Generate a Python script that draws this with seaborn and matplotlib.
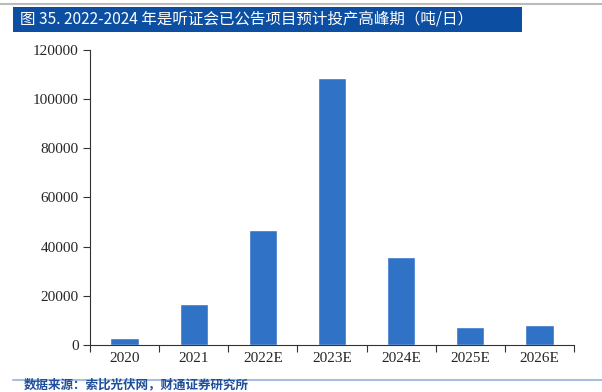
import matplotlib
matplotlib.use("Agg")
import matplotlib.pyplot as plt
import seaborn as sns
import pandas as pd
from matplotlib.patches import Rectangle
from matplotlib.lines import Line2D

categories = ["2020", "2021", "2022E", "2023E", "2024E", "2025E", "2026E"]
values = [2700, 16700, 46800, 108600, 35900, 7200, 8000]
yticks = [0, 20000, 40000, 60000, 80000, 100000, 120000]
title = "图 35. 2022-2024 年是听证会已公告项目预计投产高峰期（吨/日）"
source = "数据来源：索比光伏网，财通证券研究所"

sns.set_theme(style="white")
plt.rcParams['font.family'] = ['Noto Sans CJK SC', 'DejaVu Sans']

W, H = 602, 392
fig = plt.figure(figsize=(W / 100, H / 100), dpi=100)
ax = fig.add_axes([90 / W, 1 - 345 / H, (574 - 90) / W, (345 - 50) / H])

df = pd.DataFrame({"cat": categories, "val": values})
sns.barplot(data=df, x="cat", y="val", color="#2F72C6", saturation=1, width=0.41, ax=ax)

ax.set_ylim(0, 120000)
ax.set_xlim(-0.5, len(categories) - 0.5)
ax.set_yticks(yticks)
ax.set_yticklabels([str(v) for v in yticks], family="Liberation Serif", fontsize=11)
ax.set_xticks(range(len(categories)))
ax.set_xticklabels(categories, family="Liberation Serif", fontsize=11)
ax.set_xlabel("")
ax.set_ylabel("")
for s in ["top", "right"]:
    ax.spines[s].set_visible(False)
for s in ["left", "bottom"]:
    ax.spines[s].set_color("#333333")
    ax.spines[s].set_linewidth(0.8)
ax.tick_params(axis="y", which="major", direction="out", length=5, width=0.8, color="#333333", left=True, pad=3)
ax.tick_params(axis="x", which="major", length=0, pad=5)
ax.set_xticks([i - 0.5 for i in range(len(categories) + 1)], minor=True)
ax.tick_params(axis="x", which="minor", direction="out", length=5, width=0.8, color="#333333", bottom=True)
ax.grid(False)

# title banner
fig.add_artist(Line2D([0, 1], [1 - 4 / H, 1 - 4 / H], color="#BBBBBB", lw=1.5, transform=fig.transFigure))
fig.add_artist(Rectangle((13 / W, 1 - 32 / H), (522 - 13) / W, 25 / H, transform=fig.transFigure,
                         facecolor="#0B4EA2", edgecolor="none"))
fig.text(20 / W, 1 - 19.5 / H, title, color="white", fontsize=11.2, va="center", ha="left")

# footer
fig.add_artist(Line2D([13 / W, 1], [1 - 380 / H, 1 - 380 / H], color="#A9BFDF", lw=1.5, transform=fig.transFigure))
fig.text(24 / W, 1 - 391 / H, source, color="#1F4E9A", fontsize=9, va="bottom", ha="left", weight="bold")

fig.savefig("out.png", dpi=100)
